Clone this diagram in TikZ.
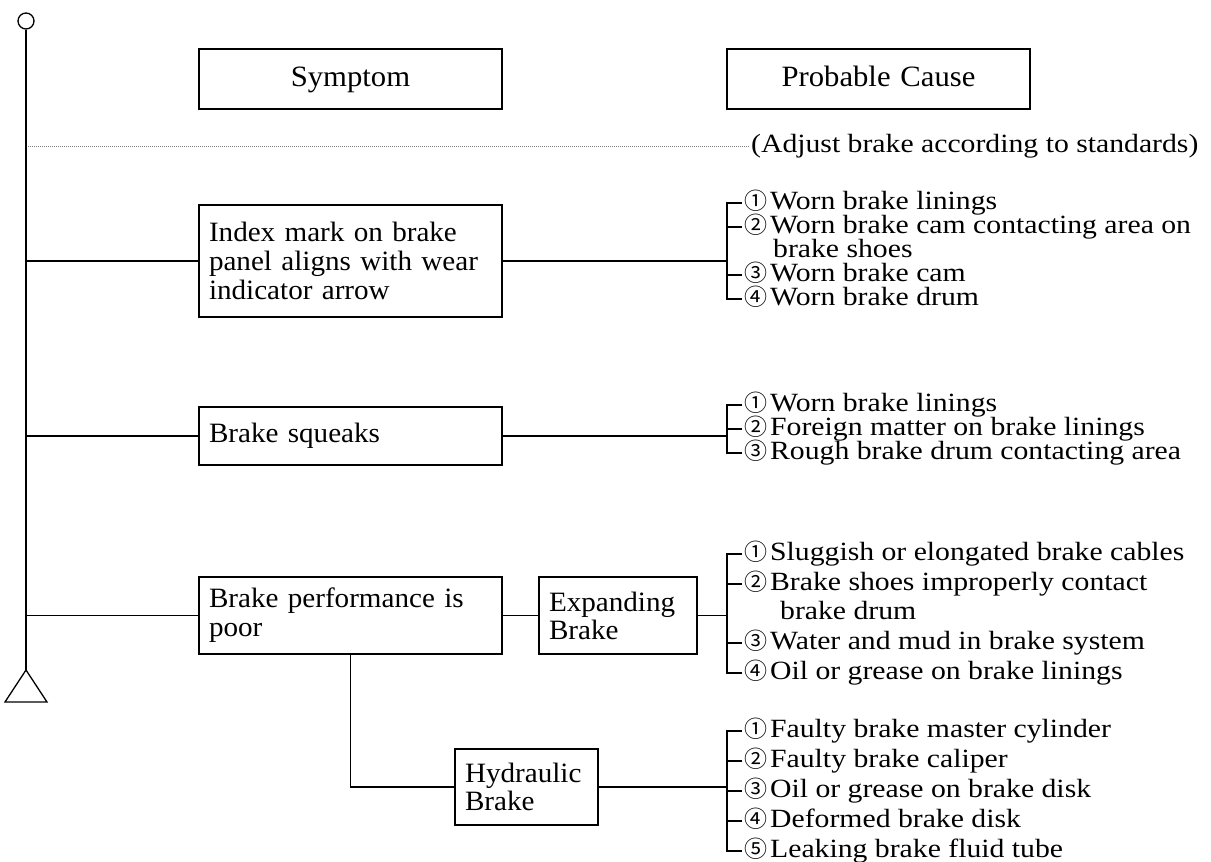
\documentclass[tikz,border=0pt]{standalone}
\usepackage{fontspec}
\setmainfont[FakeStretch=1.04]{Liberation Serif}
\newfontfamily\causefont[FakeStretch=1.13]{Liberation Serif}
\newfontfamily\circfont{Noto Sans CJK SC}
\newcommand{\cnum}[1]{{\circfont\fontsize{23}{23}\selectfont#1}\hspace{3pt}}
\begin{document}
\begin{tikzpicture}[x=1pt,y=-1pt,line width=1.3pt,
	box/.style={draw,anchor=north west,align=left,outer sep=0pt,inner xsep=10pt,text width=#1,font=\fontsize{28}{29}\selectfont},
	title/.style={box=#1,align=center,text height=20pt,text depth=6pt,font=\fontsize{29.5}{29}\selectfont},
	cause/.style={anchor=west,inner xsep=1.5pt,inner ysep=0pt,text height=18pt,text depth=5pt,font=\causefont\fontsize{26.3}{23}\selectfont}]
	\useasboundingbox (0,0) rectangle (1211,862);
	% spine
	\node[circle,draw,minimum size=16pt,inner sep=0pt] (pin) at (26,21) {};
	\draw (26,670) coordinate (apex) -- (5,702) -- (47,702) -- cycle;
	\draw (pin.south) -- (apex);
	% headings
	\node[title=283pt,minimum height=60pt] (hs) at (199,49) {Symptom};
	\node[title=283pt,minimum height=60pt] (hc) at (727,49) {Probable Cause};
	\node[cause] (adj) at (749,146) {(Adjust brake according to standards)};
	\draw[line width=0.8pt,gray,dash pattern=on 1pt off 1pt] (adj.west -| pin) ++(2,0) -- (adj.west);
	% symptoms
	\node[box=283pt,minimum height=112pt] (s1) at (199,205) {Index mark on brake\\panel aligns with wear\\indicator arrow};
	\node[box=283pt,minimum height=58pt] (s2) at (199,407) {Brake squeaks};
	\node[box=283pt,minimum height=77pt] (s3) at (199,577) {Brake performance is\\poor};
	\node[box=138pt,minimum height=77pt,font=\fontsize{28}{28}\selectfont] (ex) at (539,577) {Expanding\\Brake};
	\node[box=123pt,minimum height=76pt,font=\fontsize{28}{28}\selectfont] (hy) at (455,749) {Hydraulic\\Brake};
	\foreach \s in {s1,s2,s3}
		\draw (\s.west) -- (\s.west -| pin);
	\draw (s3.east) -- (ex.west);
	\draw (s3.south) |- (hy.west);
	% causes
	\coordinate (k1) at (727,261);
	\coordinate (k2) at (727,436);
	\coordinate (k3) at (727,615.5);
	\coordinate (k4) at (727,787);
	\node[cause] (a1) at (742,203) {\cnum{①}Worn brake linings};
	\node[cause] (a2) at (742,227) {\cnum{②}Worn brake cam contacting area on};
	\node[cause] (a2b) at (771,251) {brake shoes};
	\node[cause] (a3) at (742,275) {\cnum{③}Worn brake cam};
	\node[cause] (a4) at (742,299) {\cnum{④}Worn brake drum};
	\node[cause] (b1) at (742,405) {\cnum{①}Worn brake linings};
	\node[cause] (b2) at (742,429) {\cnum{②}Foreign matter on brake linings};
	\node[cause] (b3) at (742,453) {\cnum{③}Rough brake drum contacting area};
	\node[cause] (c1) at (742,554) {\cnum{①}Sluggish or elongated brake cables};
	\node[cause] (c2) at (742,584) {\cnum{②}Brake shoes improperly contact};
	\node[cause] (c2b) at (778,613) {brake drum};
	\node[cause] (c3) at (742,643) {\cnum{③}Water and mud in brake system};
	\node[cause] (c4) at (742,673) {\cnum{④}Oil or grease on brake linings};
	\node[cause] (d1) at (742,731) {\cnum{①}Faulty brake master cylinder};
	\node[cause] (d2) at (742,761) {\cnum{②}Faulty brake caliper};
	\node[cause] (d3) at (742,791) {\cnum{③}Oil or grease on brake disk};
	\node[cause] (d4) at (742,821) {\cnum{④}Deformed brake disk};
	\node[cause] (d5) at (742,851) {\cnum{⑤}Leaking brake fluid tube};
	\draw (s1.east) -- (k1);
	\draw (s2.east) -- (k2);
	\draw (ex.east) -- (k3);
	\draw (hy.east) -- (k4);
	\foreach \n in {a1,a2,a3,a4}
		\draw (\n.west) -| (k1);
	\foreach \n in {b1,b2,b3}
		\draw (\n.west) -| (k2);
	\foreach \n in {c1,c2,c3,c4}
		\draw (\n.west) -| (k3);
	\foreach \n in {d1,d2,d3,d4,d5}
		\draw (\n.west) -| (k4);
\end{tikzpicture}
\end{document}
